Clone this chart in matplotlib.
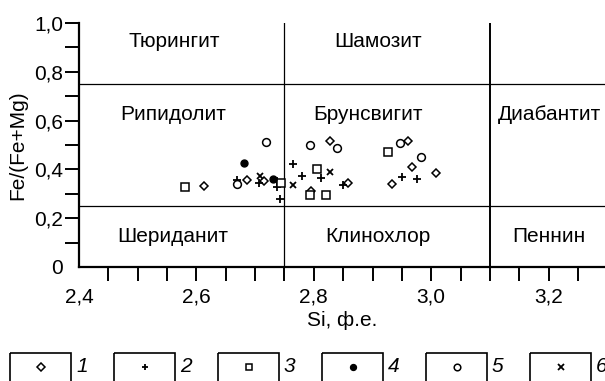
import matplotlib
matplotlib.use("Agg")
import matplotlib.pyplot as plt
from matplotlib.patches import Rectangle

plt.rcParams['font.family'] = ['Liberation Sans', 'DejaVu Sans']

# --- data ---
s1_x = [2.613, 2.686, 2.716, 2.828, 2.796, 2.859, 2.961, 2.968, 2.933, 3.008]
s1_y = [0.332, 0.357, 0.354, 0.518, 0.311, 0.346, 0.518, 0.409, 0.340, 0.384]
s2_x = [2.670, 2.707, 2.737, 2.738, 2.742, 2.764, 2.780, 2.813, 2.850, 2.951, 2.975]
s2_y = [0.357, 0.346, 0.354, 0.329, 0.279, 0.422, 0.374, 0.363, 0.335, 0.368, 0.359]
s3_x = [2.580, 2.744, 2.806, 2.794, 2.821, 2.926]
s3_y = [0.329, 0.346, 0.400, 0.294, 0.295, 0.470]
s4_x = [2.681, 2.731]
s4_y = [0.425, 0.362]
s5_x = [2.670, 2.719, 2.794, 2.840, 2.947, 2.982]
s5_y = [0.340, 0.511, 0.500, 0.489, 0.510, 0.450]
s6_x = [2.708, 2.764, 2.828]
s6_y = [0.373, 0.336, 0.391]

series_labels = ['1', '2', '3', '4', '5', '6']

fields = ['Тюрингит', 'Шамозит', 'Рипидолит', 'Брунсвигит', 'Диабантит',
          'Шериданит', 'Клинохлор', 'Пеннин']
field_x = [2.563, 2.909, 2.560, 2.892, 3.201, 2.559, 2.909, 3.201]
field_y = [0.902, 0.902, 0.602, 0.602, 0.602, 0.102, 0.102, 0.102]

si_bounds = [2.75, 3.1]
fe_bounds = [0.25, 0.75]

x_major = [2.4, 2.6, 2.8, 3.0, 3.2]
x_major_lbl = ['2,4', '2,6', '2,8', '3,0', '3,2']
x_minor = [2.45, 2.5, 2.55, 2.65, 2.7, 2.75, 2.85, 2.9, 2.95, 3.05, 3.1, 3.15, 3.25]
y_major = [0, 0.2, 0.4, 0.6, 0.8, 1.0]
y_major_lbl = ['0', '0,2', '0,4', '0,6', '0,8', '1,0']
y_minor = [0.1, 0.3, 0.5, 0.7, 0.9]

FS = 15
W, H = 605, 381
fig = plt.figure(figsize=(W / 100, H / 100), dpi=100)
ax = fig.add_axes([79 / W, 114 / H, 526 / W, 244 / H])
ax.set_xlim(2.4, 2.4 + 526 / 587)
ax.set_ylim(0, 1.0)

styles = [
    dict(marker='D', ms=4.4, mfc='white', mec='black', mew=1.1),
    dict(marker='+', ms=5.8, mec='black', mew=1.3),
    dict(marker='s', ms=5.5, mfc='white', mec='black', mew=1.1),
    dict(marker='o', ms=5.0, mfc='black', mec='black', mew=1.0),
    dict(marker='o', ms=5.6, mfc='white', mec='black', mew=1.1),
    dict(marker='x', ms=4.8, mec='black', mew=1.3),
]
xs = [s1_x, s2_x, s3_x, s4_x, s5_x, s6_x]
ys = [s1_y, s2_y, s3_y, s4_y, s5_y, s6_y]

ax.axvline(si_bounds[0], color='black', lw=0.9)
ax.axvline(si_bounds[1], color='black', lw=1.4)
for yb in fe_bounds:
    ax.axhline(yb, color='black', lw=0.9)

for x, y, st in zip(xs, ys, styles):
    ax.plot(x, y, ls='none', **st)

for name, fx, fy in zip(fields, field_x, field_y):
    ax.text(fx, fy, name, fontsize=FS, ha='center', va='baseline')

for side in ['top', 'right']:
    ax.spines[side].set_visible(False)
for side in ['left', 'bottom']:
    ax.spines[side].set_linewidth(1.6)

ax.set_xticks(x_major)
ax.set_xticklabels(x_major_lbl)
ax.set_xticks(x_minor, minor=True)
ax.set_yticks(y_major)
ax.set_yticklabels(y_major_lbl)
ax.set_yticks(y_minor, minor=True)
ax.tick_params(axis='x', which='both', direction='out', length=10, width=1.4, labelsize=FS, pad=5)
ax.tick_params(axis='y', which='both', direction='out', length=10, width=1.4, labelsize=FS, pad=1.5)
ax.xaxis.get_major_ticks()[0].tick1line.set_visible(False)
ax.yaxis.get_major_ticks()[0].tick1line.set_visible(False)

ax.set_xlabel('Si, ф.е.', fontsize=FS, labelpad=3)
ax.set_ylabel('Fe/(Fe+Mg)', fontsize=FS, labelpad=5)

# legend row drawn in pixel coordinates
lg = fig.add_axes([0, 0, 1, 1], facecolor='none')
lg.set_xlim(0, W)
lg.set_ylim(H, 0)
lg.axis('off')
for i, (lbl, st) in enumerate(zip(series_labels, styles)):
    x0 = 10 + 104 * i
    lg.add_patch(Rectangle((x0, 352.5), 61, 32, fill=False, lw=1.2, ec='black', clip_on=False))
    small = dict(st, ms=st['ms'] * 0.85)
    lg.plot([x0 + 30.5], [367], ls='none', **small)
    lg.text(x0 + 66, 372, lbl, fontsize=FS, style='italic', ha='left', va='baseline')

fig.savefig('out.png', dpi=100)
